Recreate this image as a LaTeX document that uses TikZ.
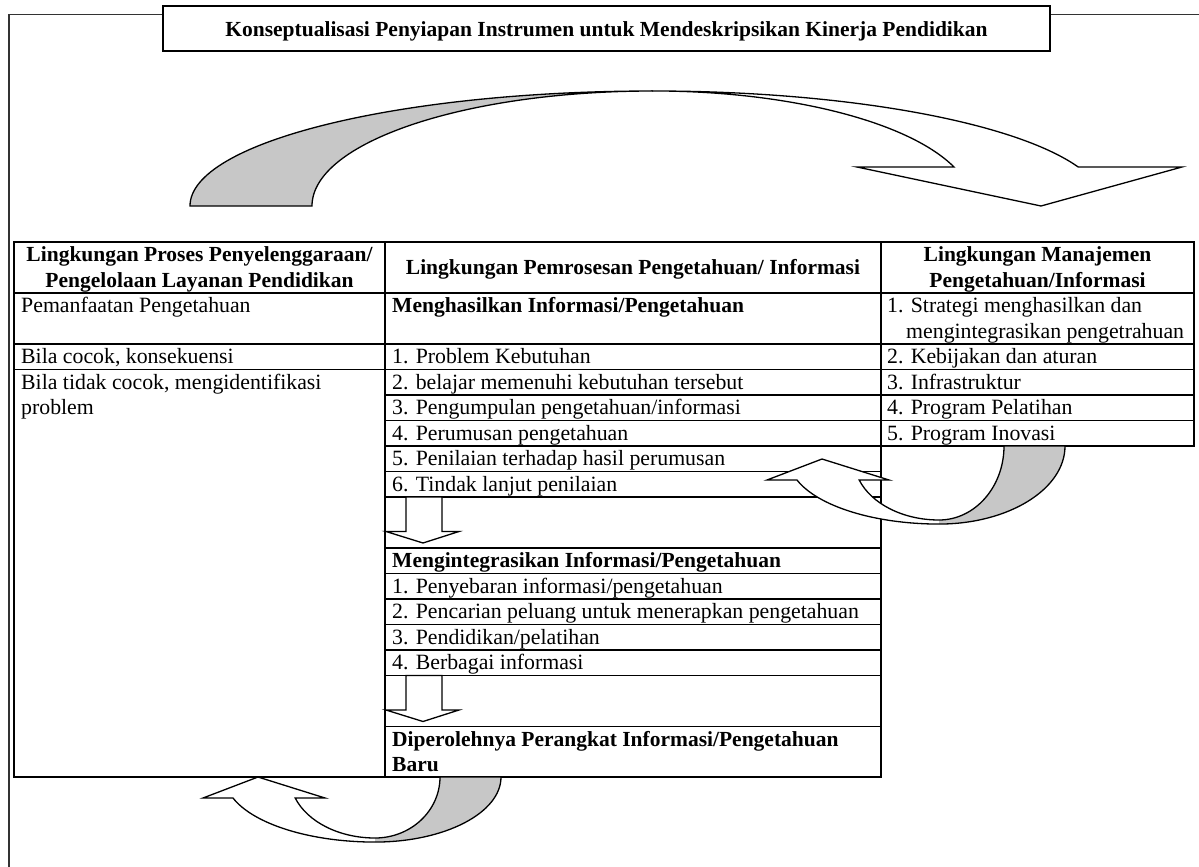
\documentclass[tikz,border=0pt]{standalone}
\usepackage{fontspec}
\setmainfont{Liberation Serif}
\definecolor{backshade}{gray}{0.78}
% #1,#2 left wing point; #3 top of back part (relative y); #4 outer radius y; #5 inner radius y
\newcommand\MyCurvUp[5]{%
\begin{scope}[shift={(#1,#2)}]
  \fill[white] (30,0) arc[start angle=161.2,end angle=90,x radius=150,y radius=65] -- (172,40)
     arc[start angle=90,end angle=159.9,x radius=85,y radius=61] -- (122,0) -- (55,-21) -- (0,0) -- cycle;
  \fill[backshade] (172,44) arc[start angle=90,end angle=0,x radius=126,y radius=#4] -- (237,#3)
     arc[start angle=0,end angle=90,x radius=65,y radius=#5] -- cycle;
  \draw[arrowln] (30,0) arc[start angle=161.2,end angle=90,x radius=150,y radius=65]
     arc[start angle=90,end angle=0,x radius=126,y radius=#4] -- (237,#3)
     arc[start angle=0,end angle=90,x radius=65,y radius=#5]
     arc[start angle=90,end angle=159.9,x radius=85,y radius=61] -- (122,0) -- (55,-21) -- (0,0) -- cycle;
\end{scope}}
\begin{document}
\begin{tikzpicture}[x=1pt,y=-1pt,
  tline/.style={line width=1.4pt,line cap=rect},
  frameln/.style={line width=1.8pt,black!80},
  arrowln/.style={line width=1.3pt,line join=miter},
  txt/.style={anchor=base west,inner sep=0pt,font=\fontsize{21.8}{25.5}\selectfont},
  btxt/.style={anchor=base west,inner sep=0pt,font=\fontsize{21.5}{25.5}\selectfont\bfseries},
  ctxt/.style={anchor=base,inner sep=0pt,font=\fontsize{21.5}{25.5}\selectfont\bfseries}]
\useasboundingbox (0,0) rectangle (1199,867);
% outer frame
\draw[frameln] (163,14.5) -- (9,14.5) -- (9,867);
\draw[frameln] (1051,14.5) -- (1199,14.5);
% title
\draw[line width=2.2pt,fill=white] (163,6) rectangle (1050,51);
\node[ctxt] (title) at (606.5,37) {Konseptualisasi Penyiapan Instrumen untuk Mendeskripsikan Kinerja Pendidikan};
% big curved arrow
\filldraw[arrowln,fill=backshade] (190,206) arc[start angle=180,end angle=270,x radius=463,y radius=115]
   arc[start angle=270,end angle=180,x radius=341,y radius=115] -- cycle;
\filldraw[arrowln,fill=white] (653,91) arc[start angle=270,end angle=340.2,x radius=452,y radius=115]
   -- (1182,167) -- (1041,206) -- (857,167) -- (954,167)
   arc[start angle=340.2,end angle=270,x radius=320,y radius=115] -- cycle;
% table lines
\draw[tline] (14,242) -- (1194,242);
\draw[tline] (14,293) -- (1194,293);
\draw[tline] (14,344) -- (1194,344);
\draw[tline] (14,369.5) -- (1194,369.5);
\foreach \yy in {395,420.5,446} \draw[tline] (385,\yy) -- (1194,\yy);
\foreach \yy in {471.5,497,548,573.5,599,624.5,650,675.5,726.5} \draw[tline] (385,\yy) -- (881,\yy);
\draw[tline] (14,777) -- (881,777);
\draw[tline] (14,242) -- (14,777);
\draw[tline] (385,242) -- (385,777);
\draw[tline] (881,242) -- (881,777);
\draw[tline] (1194,242) -- (1194,446);
% headers
\node[ctxt] (h1a) at (199.5,261.5) {Lingkungan Proses Penyelenggaraan/};
\node[ctxt] (h1b) at (199.5,287) {Pengelolaan Layanan Pendidikan};
\node[ctxt] (h2) at (633,274) {Lingkungan Pemrosesan Pengetahuan/ Informasi};
\node[ctxt] (h3a) at (1037.5,261.5) {Lingkungan Manajemen};
\node[ctxt] (h3b) at (1037.5,287) {Pengetahuan/Informasi};
% left column
\node[txt] (l1) at (21,312.5) {Pemanfaatan Pengetahuan};
\node[txt] (l2) at (21,363.5) {Bila cocok, konsekuensi};
\node[txt] (l3a) at (21,389) {Bila tidak cocok, mengidentifikasi};
\node[txt] (l3b) at (21,414.5) {problem};
% middle column
\node[btxt] (m0) at (392,312.5) {Menghasilkan Informasi/Pengetahuan};
\node[txt] (m1) at (392,363.5) {1. Problem Kebutuhan};
\node[txt] (m2) at (392,389) {2. belajar memenuhi kebutuhan tersebut};
\node[txt] (m3) at (392,414.5) {3. Pengumpulan pengetahuan/informasi};
\node[txt] (m4) at (392,440) {4. Perumusan pengetahuan};
\node[txt] (m5) at (392,465.5) {5. Penilaian terhadap hasil perumusan};
\node[txt] (m6) at (392,491) {6. Tindak lanjut penilaian};
\node[btxt] (n0) at (392,567.5) {Mengintegrasikan Informasi/Pengetahuan};
\node[txt] (n1) at (392,593) {1. Penyebaran informasi/pengetahuan};
\node[txt] (n2) at (392,618.5) {2. Pencarian peluang untuk menerapkan pengetahuan};
\node[txt] (n3) at (392,644) {3. Pendidikan/pelatihan};
\node[txt] (n4) at (392,669.5) {4. Berbagai informasi};
\node[btxt] (d1) at (392,746) {Diperolehnya Perangkat Informasi/Pengetahuan};
\node[btxt] (d2) at (392,771.5) {Baru};
% right column
\node[txt] (r1a) at (887,312.5) {1. Strategi menghasilkan dan};
\node[txt] (r1b) at (906,338) {mengintegrasikan pengetrahuan};
\node[txt] (r2) at (887,363.5) {2. Kebijakan dan aturan};
\node[txt] (r3) at (887,389) {3. Infrastruktur};
\node[txt] (r4) at (887,414.5) {4. Program Pelatihan};
\node[txt] (r5) at (887,440) {5. Program Inovasi};
% down block arrows
\filldraw[arrowln,fill=white] (406,497) -- (442,497) -- (442,531.5) -- (459,531.5) -- (423,543)
   -- (386,531.5) -- (406,531.5) -- cycle;
\filldraw[arrowln,fill=white] (406,675.5) -- (442,675.5) -- (442,710) -- (459,710) -- (423,721.5)
   -- (386,710) -- (406,710) -- cycle;
% curved up arrows
\MyCurvUp{767}{480}{-34}{78}{74}
\MyCurvUp{203}{798}{-21}{65}{61}
\end{tikzpicture}
\end{document}
